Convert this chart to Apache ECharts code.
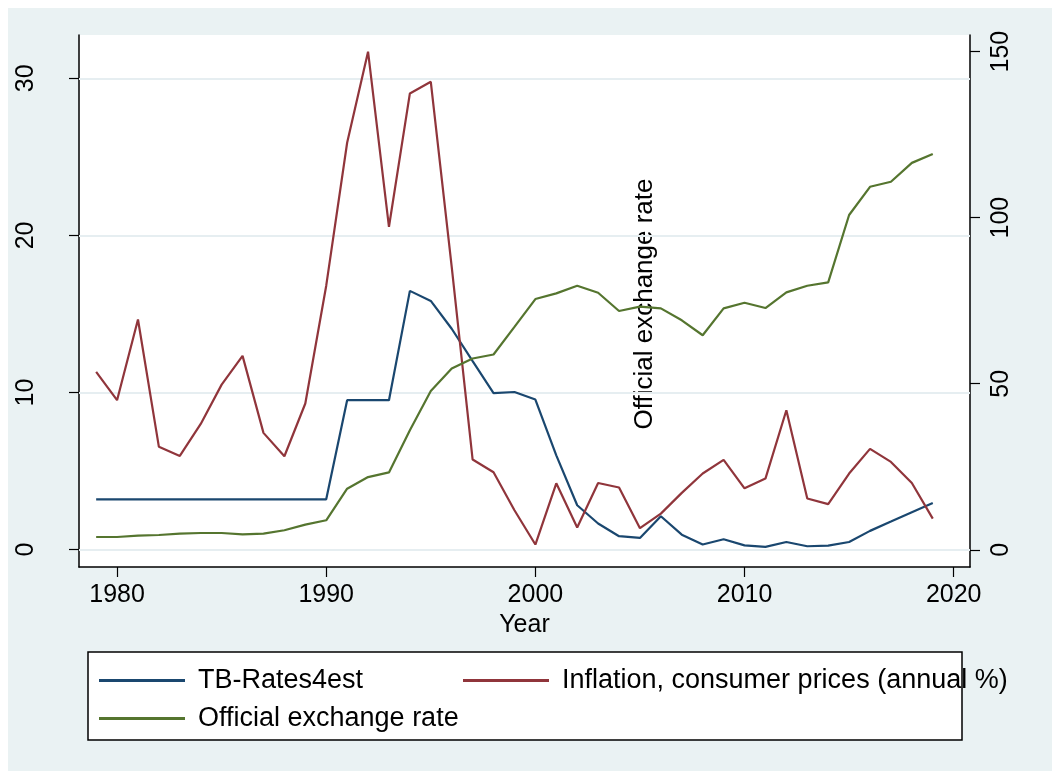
<!DOCTYPE html>
<html>
<head>
<meta charset="utf-8">
<script src="https://cdn.jsdelivr.net/npm/echarts@6/dist/echarts.min.js"></script>
<style>
    html, body { margin: 0; padding: 0; background: #fff; }
    #chart { width: 1052px; height: 771px; }
</style>
</head>
<body>
<div id="chart"></div>
<script>
// data
const years = [1979, 1980, 1981, 1982, 1983, 1984, 1985, 1986, 1987, 1988, 1989, 1990,
    1991, 1992, 1993, 1994, 1995, 1996, 1997, 1998, 1999, 2000, 2001, 2002, 2003, 2004,
    2005, 2006, 2007, 2008, 2009, 2010, 2011, 2012, 2013, 2014, 2015, 2016, 2017, 2018, 2019]
const tbRates = [3.2, 3.2, 3.2, 3.2, 3.2, 3.2, 3.2, 3.2, 3.2, 3.2, 3.2, 3.2,
    9.51, 9.51, 9.51, 16.47, 15.83, 14.06, 12.0, 9.96, 10.03, 9.55, 6.0, 2.82, 1.66, 0.85,
    0.74, 2.12, 0.95, 0.32, 0.66, 0.27, 0.17, 0.48, 0.21, 0.25, 0.48, 1.19, 1.78, 2.38, 2.97]
const inflation = [11.31, 9.51, 14.65, 6.54, 5.96, 8.0, 10.5, 12.33, 7.43, 5.94, 9.3, 16.8,
    25.9, 31.7, 20.55, 29.04, 29.78, 18.0, 5.73, 4.92, 2.5, 0.32, 4.22, 1.4, 4.24, 3.95,
    1.36, 2.29, 3.61, 4.84, 5.71, 3.9, 4.52, 8.87, 3.25, 2.89, 4.84, 6.41, 5.58, 4.24, 1.97]
const exchange = [3.86, 3.86, 4.28, 4.46, 4.88, 5.06, 5.06, 4.67, 4.88, 5.88, 7.59, 8.89,
    18.4, 21.9, 23.3, 36.0, 47.8, 54.6, 57.6, 58.8, 67.1, 75.5, 77.2, 79.5, 77.4, 71.9,
    73.2, 72.7, 69.1, 64.6, 72.7, 74.4, 72.8, 77.5, 79.5, 80.5, 100.8, 109.3, 110.8, 116.5, 119.2]

const xTicks = [1980, 1990, 2000, 2010, 2020]
const leftTicks = [0, 10, 20, 30]
const rightTicks = [0, 50, 100, 150]

const names = ['TB-Rates4est', 'Inflation, consumer prices (annual %)', 'Official exchange rate']
const colors = ['#1a476f', '#90353b', '#55752f']

const font = '"Liberation Sans", Arial, sans-serif'

const pairs = arr => years.map((y, i) => [y, arr[i]])

const chart = echarts.init(document.getElementById('chart'))

const legendItem = (name, left, top) => ({
    data: [name],
    left: left,
    top: top,
    padding: 0,
    icon: 'rect',
    itemWidth: 86,
    itemHeight: 3,
    textStyle: {
        fontFamily: font,
        fontSize: 27,
        color: '#000',
        padding: [0, 0, 0, 8]
    },
    selectedMode: false
})

chart.setOption({
    animation: false,
    backgroundColor: '#fff',
    textStyle: { fontFamily: font },
    graphic: [
        {
            type: 'rect',
            z: -10,
            shape: { x: 8, y: 8, width: 1044, height: 763 },
            style: { fill: '#eaf2f3' }
        },
        {
            type: 'rect',
            z: -5,
            shape: { x: 88, y: 652, width: 874, height: 88 },
            style: { fill: '#fff', stroke: '#000', lineWidth: 1.5 }
        },
        {
            type: 'text',
            x: 645,
            y: 304,
            rotation: Math.PI / 2,
            style: {
                text: 'Official exchange rate',
                fontFamily: font,
                fontSize: 26,
                fill: '#000',
                align: 'center',
                verticalAlign: 'middle'
            }
        }
    ],
    grid: {
        left: 79,
        right: 82,
        top: 35,
        bottom: 204,
        show: true,
        backgroundColor: '#fff',
        borderWidth: 0
    },
    legend: [
        legendItem(names[0], 99, 667),
        legendItem(names[1], 463, 667),
        legendItem(names[2], 99, 705)
    ],
    xAxis: {
        type: 'value',
        min: 1978.18,
        max: 2020.78,
        name: 'Year',
        nameLocation: 'middle',
        nameGap: 44,
        nameTextStyle: { fontFamily: font, fontSize: 25, color: '#000' },
        axisLine: { show: true, onZero: false, lineStyle: { color: '#000', width: 1.5 } },
        axisTick: { show: true, length: 10, customValues: xTicks, lineStyle: { color: '#000', width: 1.2 } },
        axisLabel: {
            customValues: xTicks,
            formatter: v => String(v),
            margin: 16,
            fontFamily: font,
            fontSize: 25,
            color: '#000'
        },
        splitLine: { show: false }
    },
    yAxis: [
        {
            type: 'value',
            position: 'left',
            min: -1.11,
            max: 32.76,
            axisLine: { show: true, lineStyle: { color: '#000', width: 1.5 } },
            axisTick: { show: true, length: 10, customValues: leftTicks, lineStyle: { color: '#000', width: 1.2 } },
            axisLabel: { customValues: leftTicks, rotate: 90, margin: 40, fontFamily: font, fontSize: 25, color: '#000' },
            splitLine: { show: false }
        },
        {
            type: 'value',
            position: 'right',
            min: -5.18,
            max: 155.0,
            axisLine: { show: true, lineStyle: { color: '#000', width: 1.5 } },
            axisTick: { show: true, length: 10, customValues: rightTicks, lineStyle: { color: '#000', width: 1.2 } },
            axisLabel: { customValues: rightTicks, rotate: 90, margin: 19, fontFamily: font, fontSize: 25, color: '#000' },
            splitLine: { show: false }
        }
    ],
    series: [
        // gridlines at the left axis ticks
        {
            name: 'gridlines',
            type: 'line',
            yAxisIndex: 0,
            data: [],
            z: 1,
            silent: true,
            markLine: {
                z: 1,
                silent: true,
                symbol: ['none', 'none'],
                label: { show: false },
                lineStyle: { color: '#e6eef1', width: 2, type: 'solid' },
                data: leftTicks.map(v => ({ yAxis: v }))
            }
        },
        {
            name: names[0],
            type: 'line',
            yAxisIndex: 0,
            data: pairs(tbRates),
            showSymbol: false,
            color: colors[0],
            z: 3,
            lineStyle: { width: 2.2, color: colors[0] }
        },
        {
            name: names[1],
            type: 'line',
            yAxisIndex: 0,
            data: pairs(inflation),
            showSymbol: false,
            color: colors[1],
            z: 3,
            lineStyle: { width: 2.2, color: colors[1] }
        },
        {
            name: names[2],
            type: 'line',
            yAxisIndex: 1,
            data: pairs(exchange),
            showSymbol: false,
            color: colors[2],
            z: 3,
            lineStyle: { width: 2.2, color: colors[2] }
        }
    ]
})
</script>
</body>
</html>
